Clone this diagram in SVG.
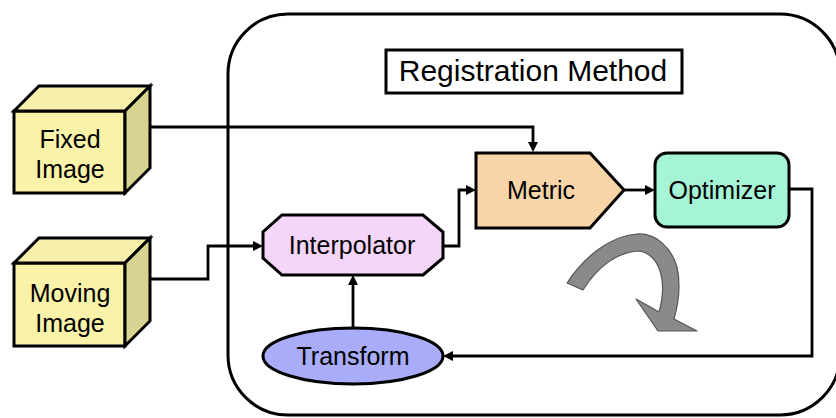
<svg xmlns="http://www.w3.org/2000/svg" width="836" height="418" viewBox="0 0 836 418">
<defs>
<style>
.node{stroke:#000;stroke-width:3;stroke-linejoin:miter}
.lbl{font-family:"Liberation Sans",Arial,Helvetica,sans-serif;font-size:25px;fill:#000;text-anchor:middle}
.conn{fill:none;stroke:#000;stroke-width:2.8;marker-end:url(#ah)}
.front{fill:#FAF2A8}
.top{fill:#F8EFAA}
.side{fill:#D8D391}
</style>
<marker id="ah" viewBox="0 0 10 10" refX="5" refY="5" markerWidth="11" markerHeight="10" markerUnits="userSpaceOnUse" orient="auto">
<path d="M0,0 L10,5 L0,10 z" fill="#000"/>
</marker>
</defs>
<rect width="836" height="418" fill="#fff"/>
<g id="registration-method">
<rect x="228" y="14" width="612" height="401" rx="60" ry="60" fill="none" stroke="#000" stroke-width="3"/>
<rect x="386" y="50" width="296" height="43" fill="#fff" stroke="#000" stroke-width="3"/>
<text x="533" y="81" class="lbl" style="font-size:30px">Registration Method</text>
</g>
<g id="connectors">
<path class="conn" d="M150,127 H533 V147"/>
<path class="conn" d="M150,279 H208 V246 H258"/>
<path class="conn" d="M443,246 H459 V190 H471"/>
<path class="conn" d="M624,190 H650"/>
<path class="conn" d="M789,189 H812 V356 H448"/>
<path class="conn" d="M353,328 V280"/>
</g>
<g id="fixed-image">
<polygon class="node front" points="14,111 125,111 125,193 14,193"/>
<polygon class="node top" points="14,111 39,86 150,86 125,111"/>
<polygon class="node side" points="125,111 150,86 150,168 125,193"/>
<text x="70" y="148" class="lbl">Fixed</text>
<text x="70" y="178" class="lbl">Image</text>
</g>
<g id="moving-image">
<polygon class="node front" points="14,263 125,263 125,346 14,346"/>
<polygon class="node top" points="14,263 39,238 150,238 125,263"/>
<polygon class="node side" points="125,263 150,238 150,321 125,346"/>
<text x="70" y="302" class="lbl">Moving</text>
<text x="70" y="332" class="lbl">Image</text>
</g>
<g id="metric">
<polygon class="node" fill="#F9D4A7" points="476,153 590,153 624,190 590,228 476,228"/>
<text x="541" y="199" class="lbl">Metric</text>
</g>
<g id="optimizer">
<rect class="node" fill="#A5F4D5" x="655" y="153" width="134" height="74" rx="12" ry="12"/>
<text x="722" y="199" class="lbl">Optimizer</text>
</g>
<g id="interpolator">
<polygon class="node" fill="#F5D5F9" points="282,215 423,215 443,232 443,258 423,275 282,275 263,258 263,232"/>
<text x="352" y="254" class="lbl">Interpolator</text>
</g>
<g id="transform">
<ellipse class="node" fill="#A9ACF8" cx="353" cy="356" rx="90" ry="28"/>
<text x="353" y="365" class="lbl">Transform</text>
</g>
<g id="iteration-arrow">
<path d="M567,283 C584,257 610,236 637,234 C656,233 671,247 677,267 C681,285 678,305 674,319 L697,331 L658,331 L636,299 L659,312 C663,298 664,281 659,268 C654,256 645,251 637,251 C615,253 596,269 583,290 Z" fill="#8a8a8a" stroke="#555" stroke-width="1.2" stroke-linejoin="round"/>
</g>
</svg>
